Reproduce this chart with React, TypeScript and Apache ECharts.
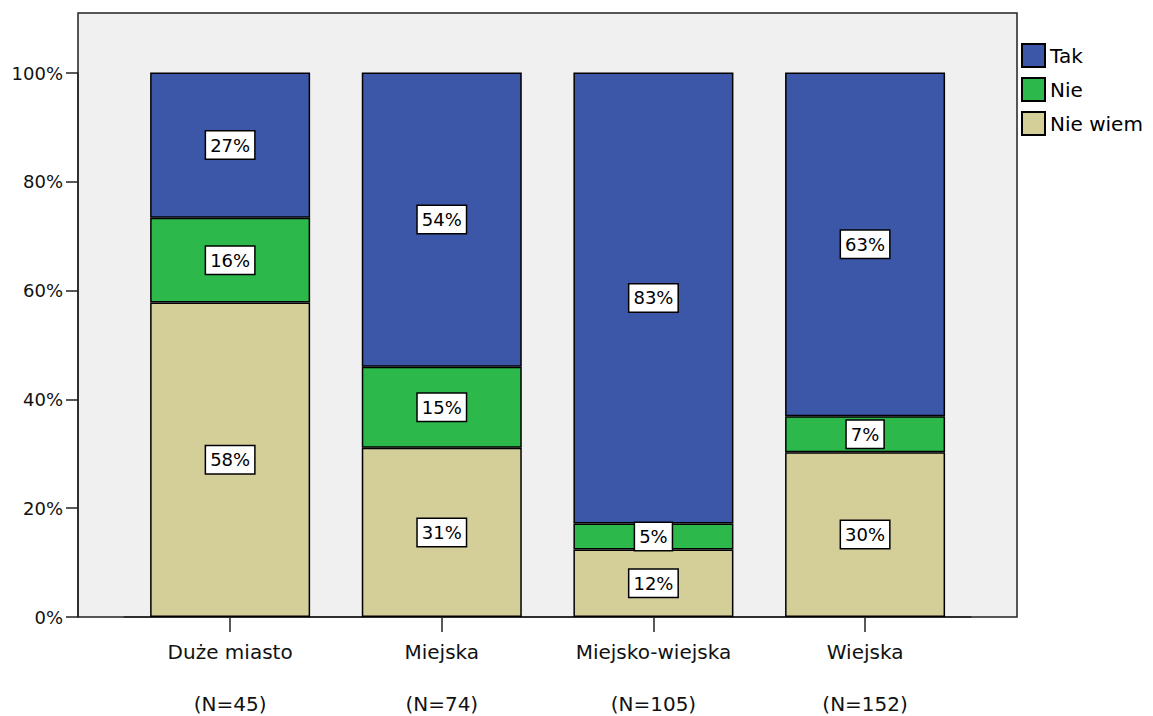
import React, { useEffect, useRef } from "react";
import * as echarts from "echarts";

const categories = ["Duże miasto", "Miejska", "Miejsko-wiejska", "Wiejska"];
const counts = ["(N=45)", "(N=74)", "(N=105)", "(N=152)"];
const nieWiem = [57.8, 31.1, 12.4, 30.3];
const nie = [15.6, 14.9, 4.8, 6.6];
const tak = [26.7, 54.1, 82.9, 63.2];

const FONT = "DejaVu Sans";

export default function App() {
  const ref = useRef<HTMLDivElement>(null);
  useEffect(() => {
    if (!ref.current) return;
    const chart = echarts.init(ref.current, undefined, { renderer: "svg" });
    const label = {
      show: true,
      position: "inside",
      formatter: (p: any) => Math.round(p.value) + "%",
      fontFamily: FONT,
      fontSize: 18,
      color: "#000",
      backgroundColor: "#fff",
      borderColor: "#000",
      borderWidth: 1.5,
      padding: [5, 4, 4, 4],
    };
    const mk = (name: string, data: number[], color: string) => ({
      name,
      type: "bar",
      stack: "all",
      data,
      barWidth: 160,
      itemStyle: { color, borderColor: "#000", borderWidth: 1.5 },
      label,
      emphasis: { disabled: true },
    });
    chart.setOption({
      animation: false,
      backgroundColor: "#fff",
      graphic: [
        {
          type: "rect",
          z: -10,
          silent: true,
          shape: { x: 78, y: 13, width: 939, height: 604 },
          style: { fill: "#f0f0f0", stroke: "#222", lineWidth: 1.5 },
        },
      ],
      grid: {
        left: 124.3,
        right: 182.1,
        top: 73,
        bottom: 99,
        containLabel: false,
        outerBoundsMode: "none",
      },
      legend: {
        orient: "vertical",
        left: 1021,
        top: 43,
        itemWidth: 23,
        itemHeight: 23,
        itemGap: 9,
        icon: "rect",
        padding: 0,
        data: ["Tak", "Nie", "Nie wiem"],
        textStyle: { fontFamily: FONT, fontSize: 20, color: "#000" },
        selectedMode: false,
      },
      xAxis: {
        type: "category",
        data: categories.map((c, i) => c + "\n" + counts[i]),
        axisLine: { show: true, lineStyle: { color: "#222", width: 1.5 } },
        axisTick: {
          show: true,
          inside: false,
          alignWithLabel: true,
          length: 15,
          lineStyle: { color: "#222", width: 1.5 },
        },
        axisLabel: {
          fontFamily: FONT,
          fontSize: 20,
          color: "#111",
          lineHeight: 52,
          margin: 9,
        },
      },
      yAxis: {
        type: "value",
        min: 0,
        max: 100,
        interval: 20,
        offset: 46.3,
        splitLine: { show: false },
        axisLine: { show: true, lineStyle: { color: "#222", width: 1.5 } },
        axisTick: {
          show: true,
          inside: false,
          length: 12,
          lineStyle: { color: "#222", width: 1.5 },
        },
        axisLabel: {
          fontFamily: FONT,
          fontSize: 18,
          color: "#111",
          margin: 15,
          formatter: (v: number) => v + "%",
        },
      },
      series: [
        mk("Nie wiem", nieWiem, "#d4ce98"),
        mk("Nie", nie, "#2db84b"),
        mk("Tak", tak, "#3c56a8"),
      ],
    });
    return () => chart.dispose();
  }, []);
  return (
    <div
      ref={ref}
      style={{ position: "absolute", left: 0, top: 0, width: 1153, height: 716 }}
    />
  );
}
